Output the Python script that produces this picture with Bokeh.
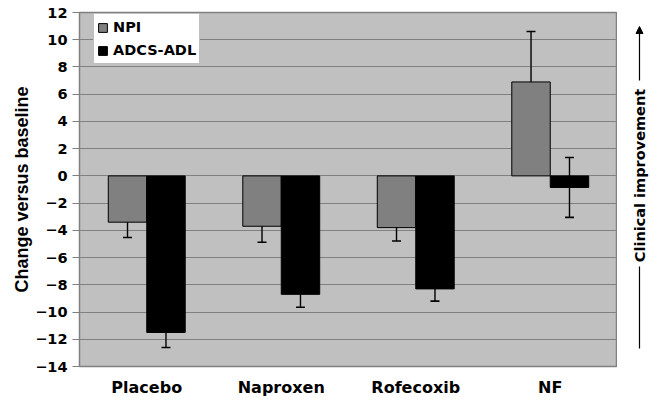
from math import pi

from bokeh.embed import file_html
from bokeh.resources import INLINE
from bokeh.plotting import figure
from bokeh.layouts import row
from bokeh.models import (ColumnDataSource, FactorRange, Range1d, FixedTicker,
                          Whisker, TeeHead, Legend, LegendItem, Label, Arrow,
                          NormalHead)
from bokeh.transform import dodge

# --- data -------------------------------------------------------------
categories = ["Placebo", "Naproxen", "Rofecoxib", "NF"]
npi = [-3.4, -3.7, -3.8, 6.9]
npi_err = [1.12, 1.17, 0.98, 3.7]
adcs_adl = [-11.5, -8.7, -8.3, -0.85]
adcs_adl_err = [1.1, 0.95, 0.9, 2.2]
y_ticks = [-14, -12, -10, -8, -6, -4, -2, 0, 2, 4, 6, 8, 10, 12]

FONT = "DejaVu Sans"
BAR_W = 0.286
OFF = BAR_W / 2
TOP, BOTTOM = 12, 38

src = ColumnDataSource(dict(
    cat=categories,
    npi=npi,
    npi_lo=[v - e for v, e in zip(npi, npi_err)],
    npi_hi=[v + e for v, e in zip(npi, npi_err)],
    adl=adcs_adl,
    adl_lo=[v - e for v, e in zip(adcs_adl, adcs_adl_err)],
    adl_hi=[v + e for v, e in zip(adcs_adl, adcs_adl_err)],
))

y_range = Range1d(-14, 12)

p = figure(width=617, height=404, output_backend="svg", toolbar_location=None,
           x_range=FactorRange(factors=categories), y_range=y_range,
           min_border_left=79, min_border_right=0, min_border_top=TOP,
           min_border_bottom=BOTTOM)

p.background_fill_color = "#c0c0c0"
p.border_fill_color = "white"
p.outline_line_color = "#808080"
p.outline_line_width = 1.5

# bars
r_npi = p.vbar(x=dodge("cat", -OFF, range=p.x_range), top="npi", bottom=0,
               width=BAR_W, source=src, fill_color="#808080",
               line_color="black", line_width=1)
r_adl = p.vbar(x=dodge("cat", OFF, range=p.x_range), top="adl", bottom=0,
               width=BAR_W, source=src, fill_color="black",
               line_color="black", line_width=1)

# error bars
for key, off in (("npi", -OFF), ("adl", OFF)):
    w = Whisker(source=src, base=dodge("cat", off, range=p.x_range),
                lower=f"{key}_lo", upper=f"{key}_hi", dimension="height",
                line_color="black", line_width=1.4,
                upper_head=TeeHead(size=9, line_color="black", line_width=1.6),
                lower_head=TeeHead(size=9, line_color="black", line_width=1.6))
    p.add_layout(w)

# y axis
p.yaxis.ticker = FixedTicker(ticks=y_ticks)
p.yaxis.major_label_overrides = {t: str(t).replace("-", "\u2212") for t in y_ticks}
p.yaxis.axis_line_color = None
p.yaxis.major_tick_in = 0
p.yaxis.major_tick_out = 7
p.yaxis.major_tick_line_color = "#808080"
p.yaxis.major_tick_line_width = 1.2
p.yaxis.minor_tick_line_color = None
p.yaxis.major_label_text_font = FONT
p.yaxis.major_label_text_font_style = "bold"
p.yaxis.major_label_text_font_size = "14.5px"
p.yaxis.major_label_text_color = "black"
p.yaxis.major_label_standoff = 5
p.yaxis.axis_label = "Change versus baseline"
p.yaxis.axis_label_text_font = "Liberation Sans"
p.yaxis.axis_label_text_font_style = "bold"
p.yaxis.axis_label_text_font_size = "18px"
p.yaxis.axis_label_text_color = "black"
p.yaxis.axis_label_standoff = 0

# x axis
p.xaxis.axis_line_color = None
p.xaxis.major_tick_line_color = None
p.xaxis.major_tick_out = 0
p.xaxis.major_label_text_font = FONT
p.xaxis.major_label_text_font_style = "bold"
p.xaxis.major_label_text_font_size = "16px"
p.xaxis.major_label_text_color = "black"
p.xaxis.major_label_standoff = 11

# grid
p.xgrid.grid_line_color = None
p.ygrid.ticker = FixedTicker(ticks=y_ticks)
p.ygrid.grid_line_color = "#808080"
p.ygrid.grid_line_width = 1.2

# legend
legend = Legend(items=[LegendItem(label="NPI", renderers=[r_npi]),
                       LegendItem(label="ADCS-ADL", renderers=[r_adl])],
                location=(14, 302), orientation="vertical",
                label_text_font=FONT, label_text_font_style="bold",
                label_text_font_size="14.5px", label_text_color="black",
                glyph_width=11, glyph_height=11,
                label_height=20, label_standoff=5, spacing=3, padding=3,
                margin=0, border_line_color="#808080", border_line_width=1,
                background_fill_color="white", background_fill_alpha=1)
p.add_layout(legend)

# side panel carrying the "Clinical improvement" arrow
side = figure(width=42, height=404, output_backend="svg", toolbar_location=None,
              x_range=Range1d(0, 1), y_range=y_range,
              min_border_left=0, min_border_right=0, min_border_top=TOP,
              min_border_bottom=BOTTOM)
side.axis.visible = False
side.grid.grid_line_color = None
side.outline_line_color = None
side.background_fill_color = "white"
side.border_fill_color = "white"

side.add_layout(Label(x=22, y=191, x_units="screen", y_units="screen",
                      text="Clinical improvement", angle=pi / 2,
                      text_align="center", text_baseline="middle",
                      text_font=FONT, text_font_style="bold",
                      text_font_size="14.5px", text_color="black"))
side.add_layout(Arrow(x_start=22, y_start=286, x_end=22, y_end=340,
                      start_units="screen", end_units="screen",
                      line_color="black", line_width=1.2,
                      end=NormalHead(size=7, fill_color="black",
                                     line_color="black")))
side.add_layout(Arrow(x_start=22, y_start=18, x_end=22, y_end=100,
                      start_units="screen", end_units="screen",
                      line_color="black", line_width=1.2, end=None))

layout = row(p, side)
open("out.html", "w").write(file_html(layout, INLINE))
